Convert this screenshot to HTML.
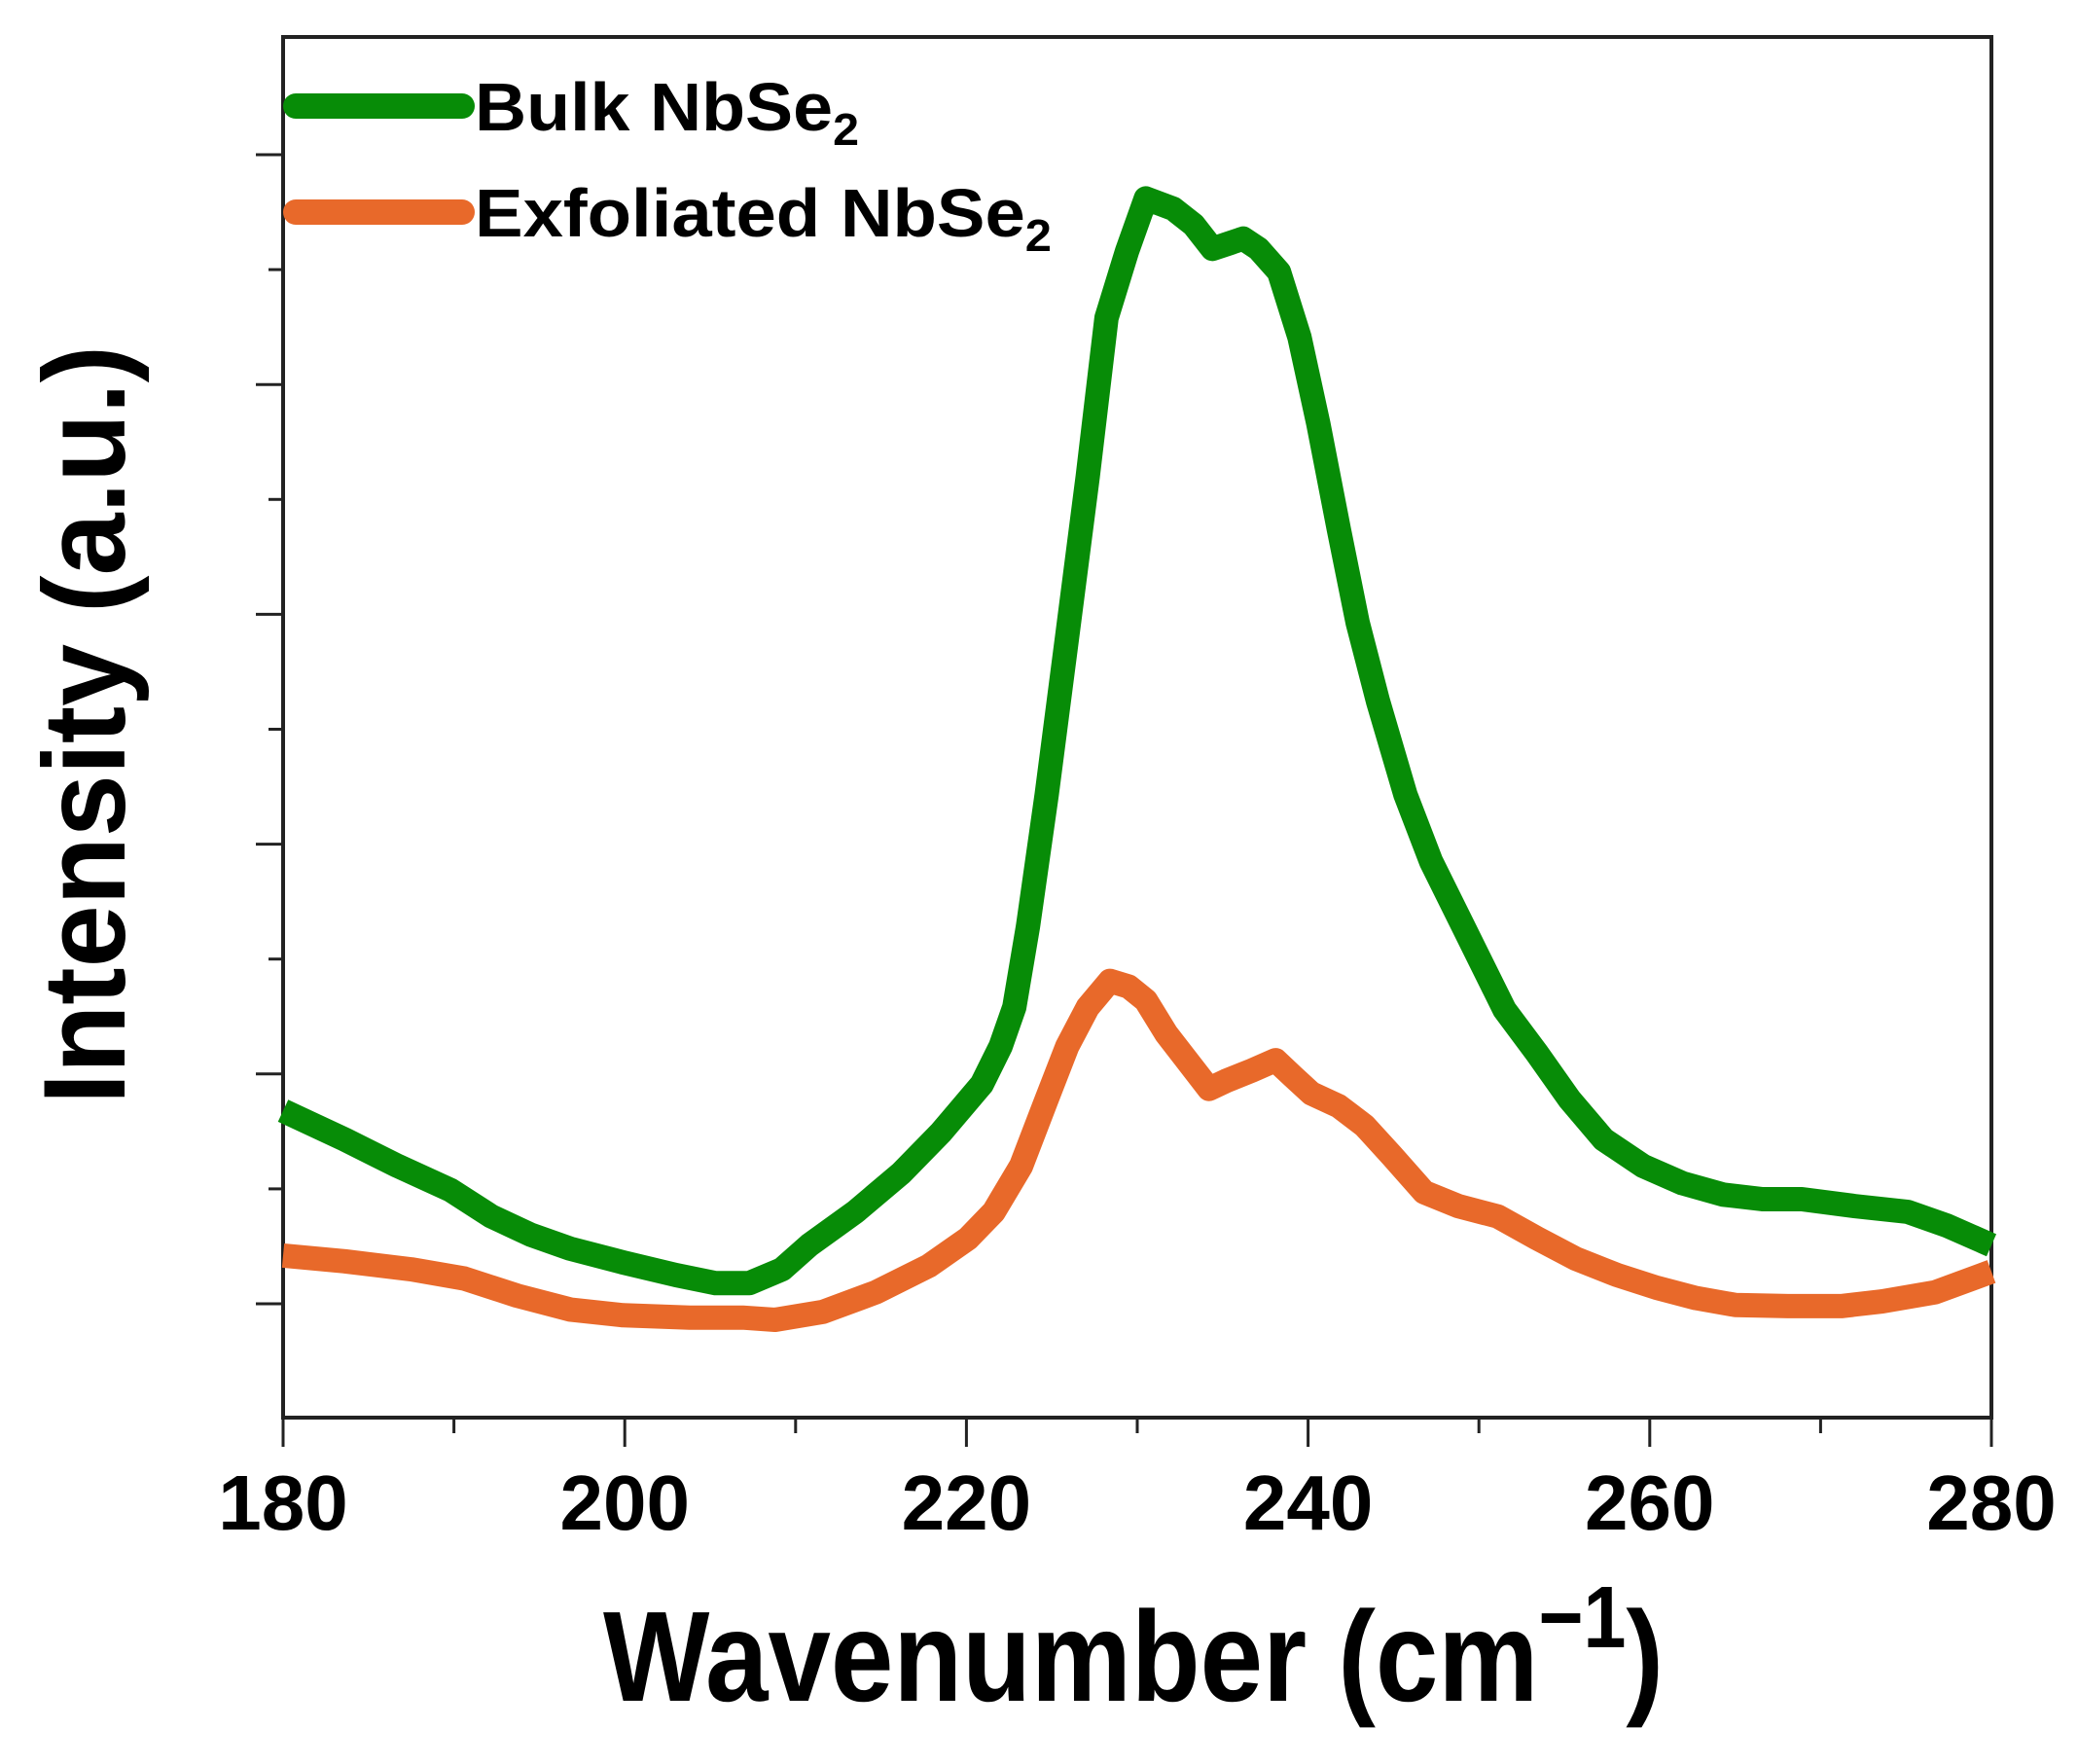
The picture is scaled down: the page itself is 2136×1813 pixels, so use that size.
<!DOCTYPE html>
<html><head><meta charset="utf-8"><style>
html,body{margin:0;padding:0;background:#fff;}
svg{display:block;font-family:"Liberation Sans",Arial,sans-serif;font-weight:bold;}
</style></head><body>
<svg id="chart" width="2136" height="1813" viewBox="0 0 2136 1813" xmlns="http://www.w3.org/2000/svg">
<g id="axes"></g>
<g id="series"></g>
<text x="1165" y="1748" font-size="132" text-anchor="middle" textLength="1090" lengthAdjust="spacingAndGlyphs">Wavenumber (cm<tspan font-size="90" dy="-55">−1</tspan><tspan dy="55">)</tspan></text>
<text transform="translate(128,745) rotate(-90)" font-size="120" text-anchor="middle" textLength="780" lengthAdjust="spacingAndGlyphs">Intensity (a.u.)</text>
<g>
<line x1="304" y1="109" x2="475" y2="109" stroke="#078c07" stroke-width="26" stroke-linecap="round"/>
<text x="488" y="134" font-size="70" textLength="395" lengthAdjust="spacingAndGlyphs">Bulk NbSe<tspan font-size="46" dy="15">2</tspan></text>
<line x1="304" y1="218" x2="475" y2="218" stroke="#e8692a" stroke-width="26" stroke-linecap="round"/>
<text x="488" y="243" font-size="70" textLength="593" lengthAdjust="spacingAndGlyphs">Exfoliated NbSe<tspan font-size="46" dy="15">2</tspan></text>
</g>
</svg>
<script>
const bulkX = [180.0,183.6,186.7,189.8,192.2,194.5,196.8,199.9,203.0,205.3,207.3,209.2,210.8,213.5,216.2,218.5,220.9,222.0,222.8,223.6,224.7,225.9,227.1,228.2,229.4,230.5,232.1,233.3,234.4,235.2,236.2,237.1,238.3,239.5,240.6,241.8,242.9,244.1,245.7,247.2,249.5,251.5,253.4,255.3,257.3,259.6,261.9,264.3,266.6,268.9,272.0,275.1,277.4,280.0];
const bulkY = [1.68,1.43,1.20,0.99,0.76,0.60,0.48,0.36,0.25,0.18,0.18,0.30,0.51,0.80,1.14,1.49,1.91,2.24,2.58,3.28,4.43,5.81,7.20,8.58,9.16,9.62,9.53,9.39,9.18,9.22,9.27,9.18,8.98,8.41,7.66,6.74,5.93,5.24,4.43,3.85,3.16,2.56,2.18,1.78,1.43,1.20,1.05,0.95,0.91,0.91,0.85,0.80,0.68,0.51];
const exfX = [180.0,183.6,187.5,190.6,193.7,196.8,199.9,203.8,206.9,208.8,211.6,214.7,217.8,220.1,221.6,223.2,224.7,225.9,227.1,228.4,229.5,230.5,231.7,232.9,234.2,235.2,236.7,238.1,239.1,240.2,241.8,243.3,244.9,246.8,248.8,251.1,253.4,255.7,258.1,260.4,262.7,265.0,268.1,271.2,273.6,276.7,280.0];
const exfY = [0.42,0.37,0.30,0.22,0.07,-0.05,-0.10,-0.12,-0.12,-0.14,-0.07,0.10,0.33,0.57,0.80,1.20,1.78,2.24,2.58,2.81,2.76,2.64,2.35,2.12,1.87,1.94,2.03,2.12,1.98,1.83,1.72,1.55,1.29,0.97,0.85,0.76,0.57,0.39,0.25,0.14,0.05,-0.01,-0.02,-0.02,0.02,0.10,0.28];
const xTickLabels = [180,200,220,240,260,280];
const xMinorTicks = [190,210,230,250,270];
const yTicks = [0,1,2,3,4,5,6,7,8,9,10];

const NS="http://www.w3.org/2000/svg";
const L=291,R=2047,T=38,B=1457;
const xs=v=>L+(v-180)/100*(R-L);
const ys=v=>1340-v*118.1;
const axes=document.getElementById('axes'), series=document.getElementById('series');
function mk(tag,attrs,parent){const e=document.createElementNS(NS,tag);for(const k in attrs)e.setAttribute(k,attrs[k]);parent.appendChild(e);return e;}

const frame=mk('rect',{x:L,y:T,width:R-L,height:B-T,fill:'none',stroke:'#222','stroke-width':4},axes);


xTickLabels.forEach(v=>{
  const t=mk('line',{x1:xs(v),x2:xs(v),y1:B,y2:B+30,stroke:'#222','stroke-width':3},axes);
  
  
  const tx=mk('text',{x:xs(v),y:1572,'font-size':80,'text-anchor':'middle'},axes);
  tx.textContent=v;
  
  
});
xMinorTicks.forEach(v=>{
  const t=mk('line',{x1:xs(v),x2:xs(v),y1:B,y2:B+16,stroke:'#222','stroke-width':3},axes);
  
  
});
yTicks.forEach(v=>{
  const len=(v%2===0)?28:15;
  const t=mk('line',{x1:L-len,x2:L,y1:ys(v),y2:ys(v),stroke:'#222','stroke-width':3},axes);
  
  
});
function draw(xa,ya,color,name){
  const d=xa.map((x,i)=>(i?'L':'M')+xs(x).toFixed(1)+' '+ys(ya[i]).toFixed(1)).join(' ');
  const p=mk('path',{d:d,fill:'none',stroke:color,'stroke-width':25,'stroke-linejoin':'round'},series);
  
  
}
draw(exfX,exfY,'#e8692a','exfoliated-nbse2-line');
draw(bulkX,bulkY,'#078c07','bulk-nbse2-line');
</script>
</body></html>
